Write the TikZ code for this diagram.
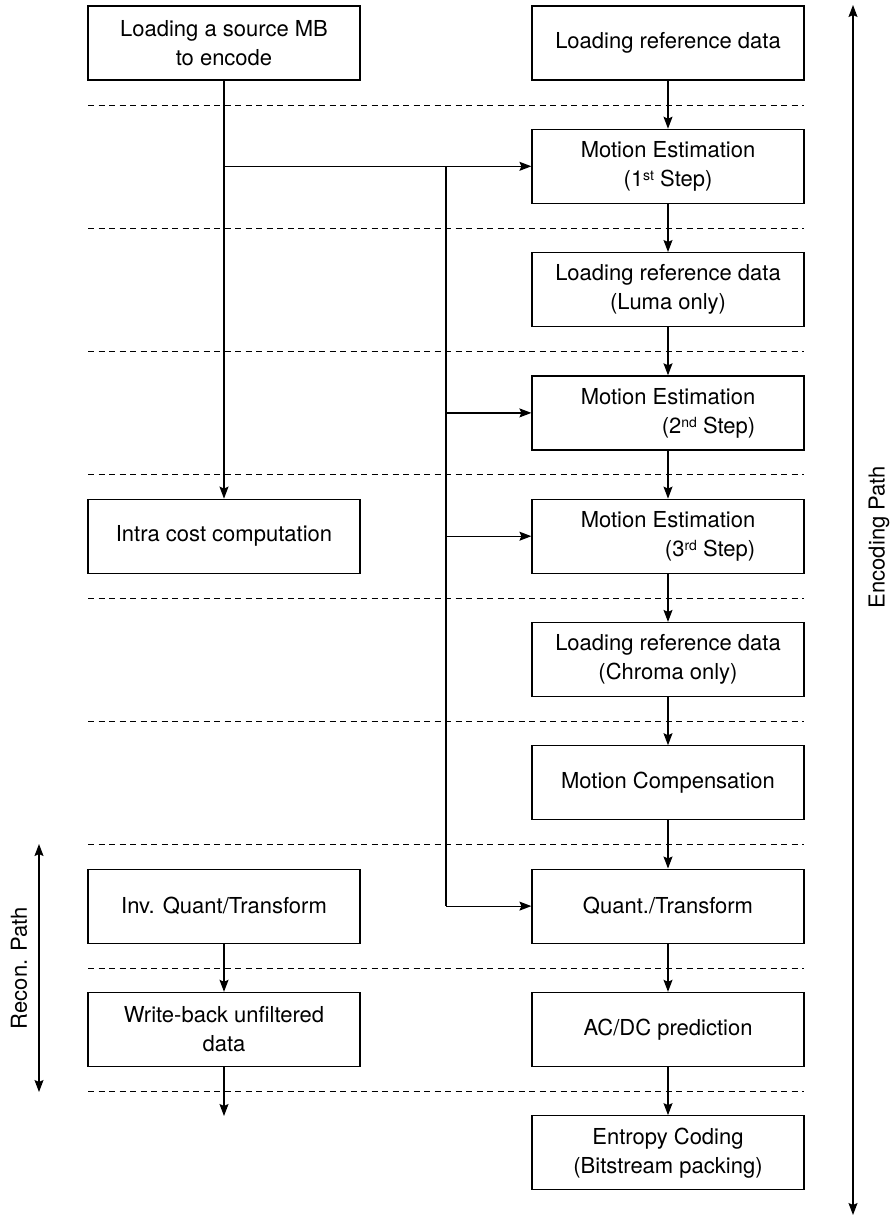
\documentclass[tikz,border=0pt]{standalone}
\usepackage{fontspec}
\setmainfont{TeX Gyre Heros}
\usetikzlibrary{arrows.meta}
\newcommand{\supx}[1]{\raisebox{6pt}{\fontsize{14}{14}\selectfont #1}}
\begin{document}
\begin{tikzpicture}[x=1pt,y=-1pt,
  box/.style={draw, line width=1.2pt, minimum width=272pt, minimum height=74pt, inner sep=0pt, align=center, font=\fontsize{22}{29}\selectfont},
  flow/.style={line width=1.2pt, -{Stealth[inset=2pt,length=12pt,width=9pt]}},
  both/.style={line width=1.2pt, {Stealth[inset=2pt,length=12pt,width=9pt]}-{Stealth[inset=2pt,length=12pt,width=9pt]}},
  sep/.style={line width=1pt, dash pattern=on 6pt off 4.5pt},
  lbl/.style={font=\fontsize{22}{27}\selectfont, rotate=90}]
\useasboundingbox (0,0) rectangle (894,1216);
% separators
\foreach \k in {0,...,8} {
  \draw[sep] (88,{105+123.3*\k}) -- (804,{105+123.3*\k});
}
% right column
\node[box] (r0) at (668,43) {Loading reference data};
\node[box] (r1) at (668,166.3) {Motion Estimation\\(1\supx{st} Step)};
\node[box] (r2) at (668,289.6) {Loading reference data\\(Luma only)};
\node[box, align=right] (r3) at (668,412.9) {Motion Estimation\\(2\supx{nd} Step)};
\node[box, align=right] (r4) at (668,536.2) {Motion Estimation\\(3\supx{rd} Step)};
\node[box] (r5) at (668,659.5) {Loading reference data\\(Chroma only)};
\node[box] (r6) at (668,782.8) {Motion Compensation};
\node[box] (r7) at (668,906.1) {Quant./Transform};
\node[box] (r8) at (668,1029.4) {AC/DC prediction};
\node[box] (r9) at (668,1152.7) {Entropy Coding\\(Bitstream packing)};
% left column
\node[box] (l0) at (224,43) {Loading a source MB\\to encode};
\node[box] (l4) at (224,536.2) {Intra cost computation};
\node[box] (l7) at (224,906.1) {Inv. Quant/Transform};
\node[box] (l8) at (224,1029.4) {Write-back unfiltered\\data};
\coordinate (lend) at (224,1116);
% vertical flows
\foreach \a/\b in {r0/r1,r1/r2,r2/r3,r3/r4,r4/r5,r5/r6,r6/r7,r7/r8,r8/r9,l0/l4,l7/l8} {
  \draw[flow] (\a.south) -- (\b.north);
}
\draw[flow] (l8.south) -- (lend);
% branches
\coordinate (jn) at (l0.south |- r1.west);
\coordinate (br) at (446,166.3);
\draw[flow] (jn) -- (r1.west);
\draw[line width=1.2pt] (br) -- (br |- r7.west);
\draw[flow] (br |- r7.west) -- (r7.west);
\draw[flow] (br |- r3.west) -- (r3.west);
\draw[flow] (br |- r4.west) -- (r4.west);
% path arrows
\coordinate (rtop) at (39,844);
\coordinate (rbot) at (39,1092);
\draw[both] (rtop) -- (rbot);
\node[lbl] (rl) at (19,968) {Recon. Path};
\coordinate (etop) at (853,5);
\coordinate (ebot) at (853,1215);
\draw[both] (etop) -- (ebot);
\node[lbl] (el) at (879,537) {Encoding Path};
\end{tikzpicture}
\end{document}
